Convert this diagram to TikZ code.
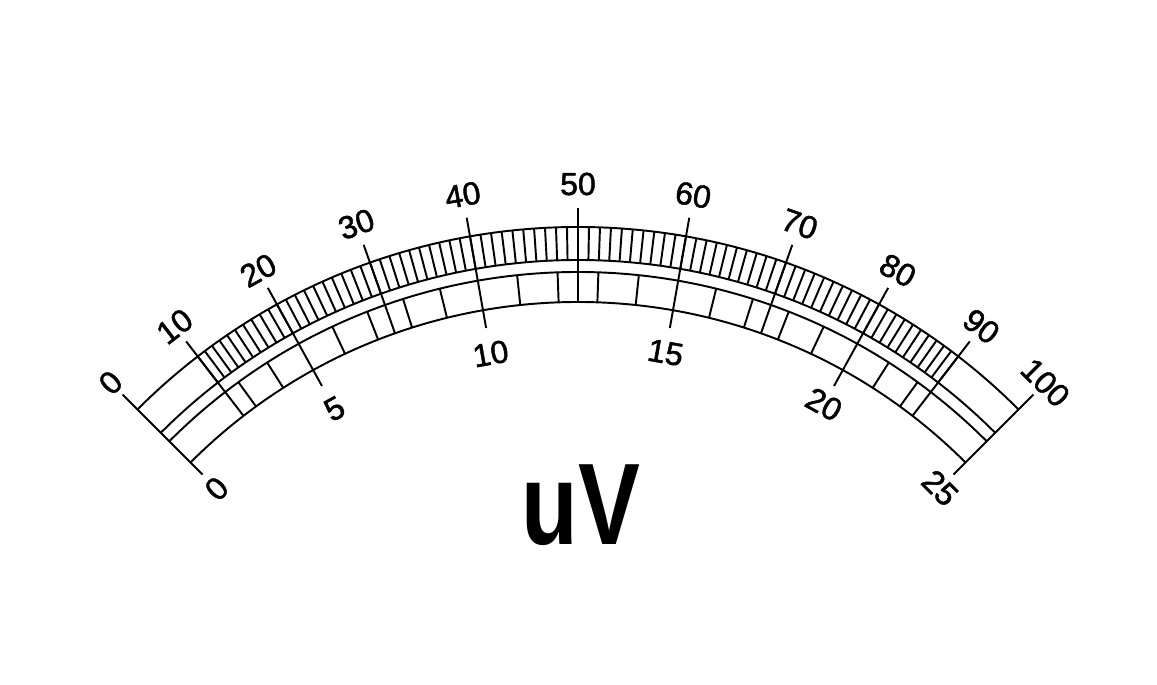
\documentclass[tikz,border=0pt]{standalone}
\usepackage{fontspec}
\setmainfont{Liberation Sans}
\newfontfamily\dialfont[FakeBold=1.5]{Liberation Sans}
\begin{document}
\begin{tikzpicture}[x=0.02cm,y=0.02cm,line width=1.1pt,
        declare function={meterangle(\v)=135-0.9*\v+1.9*sin(3.6*\v)+0.33*sin(7.2*\v)+0.19*sin(10.8*\v);},
        scalelabel/.style={font=\dialfont\fontsize{18.2}{20}\selectfont,inner sep=0pt}]
                \useasboundingbox (-578,165) rectangle (579,850);
                \draw (135:623) arc[start angle=135,end angle=45,radius=623];
                \draw (135:590) arc[start angle=135,end angle=45,radius=590];
                \draw (135:578) arc[start angle=135,end angle=45,radius=578];
                \draw (135:548) arc[start angle=135,end angle=45,radius=548];
                \draw (135:531) -- (135:644);
                \draw (45:531) -- (45:644);
                \foreach \v in {10,11,...,90}
                {
                    \draw ({meterangle(\v)}:590) -- ({meterangle(\v)}:623);
                }
                \foreach \v in {10,30,50,70,90}
                {
                    \draw ({meterangle(\v)}:548) -- ({meterangle(\v)}:642);
                }
                \foreach \v in {20,40,60,80}
                {
                    \draw ({meterangle(\v)}:530) -- ({meterangle(\v)}:642);
                }
                \foreach \u in {3,4,6,7,8,9,11,12,13,14,16,17,18,19,21,22}
                {
                    \draw ({meterangle(4*\u)}:548) -- ({meterangle(4*\u)}:578);
                }
                \foreach \v/\r in {0/661,10/661,20/662,30/664,40/665,50/666,60/665,70/664,80/662,90/661,100/661}
                {
                    \node[scalelabel,rotate={meterangle(\v)-90}] (up\v) at ({meterangle(\v)}:\r) {\v};
                }
                \foreach \u/\r in {0/511,5/504,10/504,15/505,20/509,25/512}
                {
                    \node[scalelabel,rotate={meterangle(4*\u)-90}] (lo\u) at ({meterangle(4*\u)}:\r) {\u};
                }
                \node[font=\fontsize{66}{66}\selectfont\bfseries,anchor=base,inner sep=0pt,xscale=0.8] (unit) at (3,305) {uV};
            \end{tikzpicture}
\end{document}
